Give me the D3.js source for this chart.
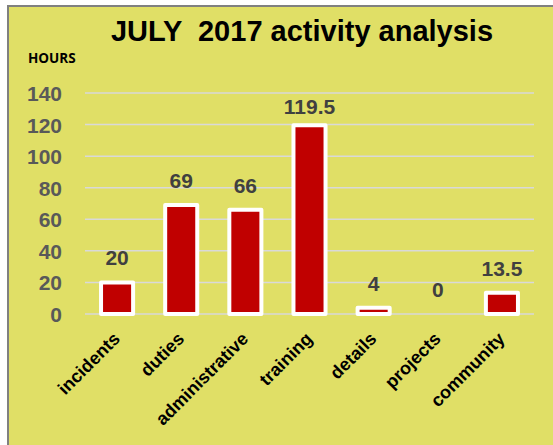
<!DOCTYPE html>
<html>
<head>
<meta charset="utf-8">
<script src="https://cdn.jsdelivr.net/npm/d3@7"></script>
<style>
  html, body { margin: 0; padding: 0; background: #fff; }
  svg { display: block; }
</style>
</head>
<body>
<div id="chart"></div>
<script>
const categories = ['incidents', 'duties', 'administrative', 'training', 'details', 'projects', 'community']
const hours = [20, 69, 66, 119.5, 4, 0, 13.5]
const yTicks = [0, 20, 40, 60, 80, 100, 120, 140]

const width = 553
const height = 445
const margin = { top: 93, left: 85, right: 19, bottom: 131 }

const svg = d3.select('#chart')
  .append('svg')
  .attr('width', width)
  .attr('height', height)

// chart box
svg.append('rect')
  .attr('x', 8)
  .attr('y', 6)
  .attr('width', width)
  .attr('height', height)
  .attr('fill', '#e0df66')
  .attr('stroke', '#808080')
  .attr('stroke-width', 2)

svg.append('text')
  .attr('x', 302)
  .attr('y', 41)
  .attr('text-anchor', 'middle')
  .attr('font-family', 'Liberation Sans, Arial, sans-serif')
  .attr('font-weight', 'bold')
  .attr('font-size', '29px')
  .attr('fill', '#000')
  .style('white-space', 'pre')
  .text('JULY  2017 activity analysis')

svg.append('text')
  .attr('x', 28)
  .attr('y', 63)
  .attr('font-family', 'Open Sans, sans-serif')
  .attr('font-weight', 'bold')
  .attr('font-size', '13.5px')
  .attr('fill', '#000')
  .text('HOURS')

const x = d3.scaleBand()
  .domain(categories)
  .range([margin.left, width - margin.right])
  .paddingInner(0.5)
  .paddingOuter(0.25)

const y = d3.scaleLinear()
  .domain([0, 140])
  .range([height - margin.bottom, margin.top])

// gridlines
svg.append('g')
  .selectAll('line')
  .data(yTicks)
  .enter()
  .append('line')
  .attr('x1', margin.left)
  .attr('x2', width - margin.right)
  .attr('y1', d => y(d))
  .attr('y2', d => y(d))
  .attr('stroke', '#d9d9d9')
  .attr('stroke-width', 1.5)

const yAxis = svg.append('g')
  .attr('transform', `translate(${margin.left - 23}, 0)`)
  .call(d3.axisLeft(y).tickValues(yTicks).tickSize(0).tickPadding(0))

yAxis.select('.domain').remove()
yAxis.selectAll('text')
  .attr('font-family', 'Liberation Sans, Arial, sans-serif')
  .attr('font-weight', 'bold')
  .attr('font-size', '21px')
  .attr('fill', '#595959')
  .attr('dy', '.36em')

const data = categories.map((c, i) => ({ label: c, value: hours[i] }))

svg.append('g')
  .selectAll('rect')
  .data(data)
  .enter()
  .append('rect')
  .attr('x', d => x(d.label))
  .attr('y', d => y(d.value))
  .attr('width', x.bandwidth())
  .attr('height', d => y(0) - y(d.value))
  .attr('fill', '#c00000')
  .attr('stroke', d => d.value > 0 ? '#fff' : 'none')
  .attr('stroke-width', 4)
  .attr('stroke-linejoin', 'round')

svg.append('g')
  .selectAll('text')
  .data(data)
  .enter()
  .append('text')
  .attr('x', d => x(d.label) + x.bandwidth() / 2)
  .attr('y', d => Math.max(y(d.value) - 17, 114))
  .attr('text-anchor', 'middle')
  .attr('font-family', 'Liberation Sans, Arial, sans-serif')
  .attr('font-weight', 'bold')
  .attr('font-size', '21px')
  .attr('fill', '#404040')
  .text(d => d.value)

const xAxis = svg.append('g')
  .attr('transform', `translate(0, ${y(0)})`)
  .call(d3.axisBottom(x).tickSize(0).tickPadding(0))

xAxis.select('.domain').remove()
xAxis.selectAll('text')
  .attr('font-family', 'Liberation Sans, Arial, sans-serif')
  .attr('font-weight', 'bold')
  .attr('font-size', '18px')
  .attr('fill', '#000')
  .attr('text-anchor', 'end')
  .attr('dy', '0')
  .attr('transform', 'translate(4, 26) rotate(-45)')
</script>
</body>
</html>
